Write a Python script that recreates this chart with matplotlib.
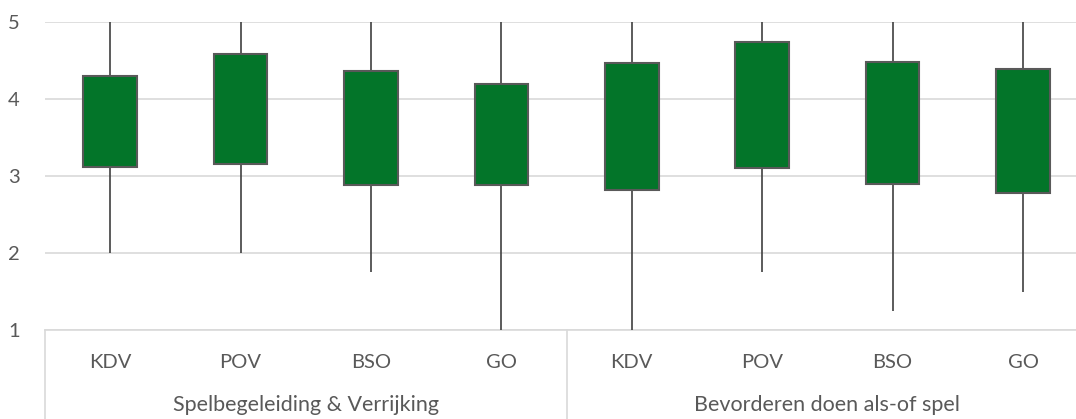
import matplotlib
matplotlib.use("Agg")
import matplotlib.pyplot as plt
from matplotlib.lines import Line2D

categories = ["KDV", "POV", "BSO", "GO", "KDV", "POV", "BSO", "GO"]
groups = ["Spelbegeleiding & Verrijking", "Bevorderen doen als-of spel"]
high = [5, 5, 5, 5, 5, 5, 5, 5]
low = [2.0, 2.0, 1.75, 1.0, 1.0, 1.75, 1.25, 1.5]
q_low = [3.12, 3.15, 2.88, 2.88, 2.82, 3.11, 2.90, 2.78]
q_high = [4.30, 4.58, 4.37, 4.20, 4.47, 4.74, 4.48, 4.39]
yticks = [1, 2, 3, 4, 5]

W, H = 1076, 419
fig = plt.figure(figsize=(W / 100, H / 100), dpi=100)
plt.rcParams['font.family'] = ['Lato', 'DejaVu Sans']
txt = "#595959"

left_px, top_px, bottom_px = 45, 22, 330
cat_w = 130.4
ax = fig.add_axes([left_px / W, (H - bottom_px) / H, 8 * cat_w / W, (bottom_px - top_px) / H])
ax.set_xlim(-0.5, 7.5)
ax.set_ylim(1, 5)

x = list(range(len(categories)))
ax.vlines(x, low, high, color="#404040", linewidth=1.2, zorder=3)
ax.bar(x, [h - l for h, l in zip(q_high, q_low)], bottom=q_low, width=0.41,
       color="#037529", edgecolor="#595959", linewidth=1.5, zorder=4)

ax.set_yticks(yticks)
ax.yaxis.grid(True, color="#d9d9d9", linewidth=1.2, zorder=0)
ax.set_axisbelow(True)
for s in ["top", "right", "left"]:
    ax.spines[s].set_visible(False)
ax.spines["bottom"].set_color("#d9d9d9")
ax.spines["bottom"].set_linewidth(1.2)
ax.tick_params(axis="y", length=0, pad=18, labelsize=14.5, labelcolor=txt)
ax.set_xticks(x)
ax.set_xticklabels(categories)
ax.tick_params(axis="x", length=0, pad=17.5, labelsize=14.5, labelcolor=txt)

# group labels and separators
axh = bottom_px - top_px
ext = (H - bottom_px) / axh
for gx in [-0.5, 3.5]:
    ax.add_line(Line2D([gx, gx], [0, -ext], transform=ax.get_xaxis_transform(),
                       color="#d9d9d9", linewidth=1.2, clip_on=False))
for i, g in enumerate(groups):
    ax.text(1.5 + 4 * i, -(405 - bottom_px) / axh, g, transform=ax.get_xaxis_transform(),
            ha="center", va="center", fontsize=15.5, color=txt)

fig.savefig("out.png", dpi=100)
